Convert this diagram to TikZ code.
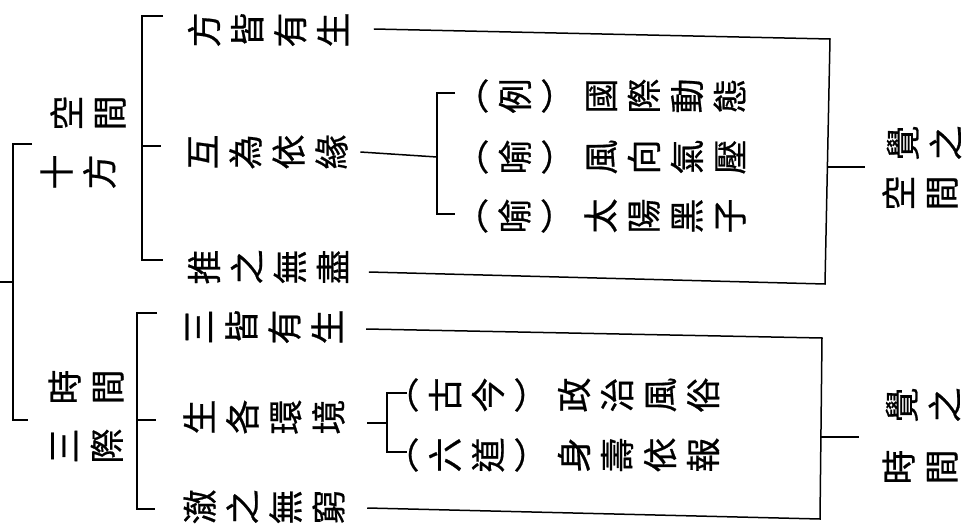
\documentclass[tikz,border=0pt]{standalone}
\usepackage{fontspec}
\newfontfamily\cjk[FakeBold=0.6]{Noto Sans CJK TC}

\begin{document}
\begin{tikzpicture}[
        x = 1pt, y = -1pt,
        line width = 1.5pt,
     tate/.style = {rotate=90, align=center, inner sep=0pt,
                    font=\cjk\fontsize{35}{43}\selectfont},
     link/.style = {line join=miter}
                    ]
\useasboundingbox (0,0) rectangle (964,527);
%
% labels on the left
\node (shifang)  [tate] at (78,172) {十\\方};
\node (kongjian) [tate] at (88,113) {空\\間};
\node (sanji)    [tate] at (87,446) {三\\際};
\node (shijian)  [tate] at (86,387) {時\\間};
% items
\node (fang)  [tate] at (268,30)  {方\\皆\\有\\生};
\node (hu)    [tate] at (268,152) {互\\為\\依\\緣};
\node (tui)   [tate] at (268,267) {推\\之\\無\\盡};
\node (san)   [tate] at (264,327) {三\\皆\\有\\生};
\node (sheng) [tate] at (264,417) {生\\各\\環\\境};
\node (che)   [tate] at (264,507) {澈\\之\\無\\窮};
% examples
\node (guoji)     [tate] at (612,96)  {︵\\例\\︶\\國\\際\\動\\態};
\node (fengxiang) [tate] at (612,157) {︵\\喻\\︶\\風\\向\\氣\\壓};
\node (taiyang)   [tate] at (612,216) {︵\\喻\\︶\\太\\陽\\黑\\子};
\node (zhengzhi)  [tate] at (564,395) {︵\\古\\今\\︶\\政\\治\\風\\俗};
\node (shenshou)  [tate] at (564,455) {︵\\六\\道\\︶\\身\\壽\\依\\報};
% labels on the right
\node (jueA)  [tate] at (924,143) {覺\\之};
\node (kongA) [tate] at (920,193) {空\\間};
\node (jueB)  [tate] at (923,405) {覺\\之};
\node (shiB)  [tate] at (920,467) {時\\間};
%
\coordinate (rin) at (0,282);   \coordinate (r0) at (13,282);
\coordinate (rt)  at (32,144);  \coordinate (rb) at (28,420);
\coordinate (a1) at (163,16);   \coordinate (a2) at (161,146);
\coordinate (a3) at (163,260);  \coordinate (s1) at (142,146);
\coordinate (c1) at (157,313);  \coordinate (c2) at (156,420);
\coordinate (c3) at (155,509);  \coordinate (s2) at (137,420);
\coordinate (b1t) at (455,93);  \coordinate (b1m) at (437,157);
\coordinate (b1b) at (455,214);
\coordinate (b2t) at (407,393); \coordinate (b2m) at (387,423);
\coordinate (b2b) at (407,452);
\coordinate (m1t) at (830,39);  \coordinate (m1b) at (825,284);
\coordinate (m1) at (828,167);  \coordinate (t1) at (865,167);
\coordinate (m2t) at (822,338); \coordinate (m2b) at (820,519);
\coordinate (m2) at (821,437);  \coordinate (t2) at (859,437);
%
\draw (rin) -- (r0);
\draw [link] (rt) -| (r0) |- (rb);
\draw [link] (a1) -| (s1) |- (a3);
\draw (s1) -- (a2);
\draw [link] (c1) -| (s2) |- (c3);
\draw (s2) -- (c2);
%
\draw ([xshift=12pt]hu.south) -- (b1m);
\draw [link] (b1t) -| (b1m) |- (b1b);
\draw ([xshift=22pt,yshift=-6pt]sheng.south) -- (b2m);
\draw [link] (b2t) -| (b2m) |- (b2b);
%
\draw [link] ([xshift=25pt,yshift=1pt]fang.south) -- (m1t) -- (m1b)
      -- ([xshift=20pt,yshift=-5pt]tui.south);
\draw (m1) -- (t1);
\draw [link] ([xshift=23pt,yshift=-2pt]san.south) -- (m2t) -- (m2b)
      -- ([xshift=22pt,yshift=-1pt]che.south);
\draw (m2) -- (t2);
\end{tikzpicture}
\end{document}
